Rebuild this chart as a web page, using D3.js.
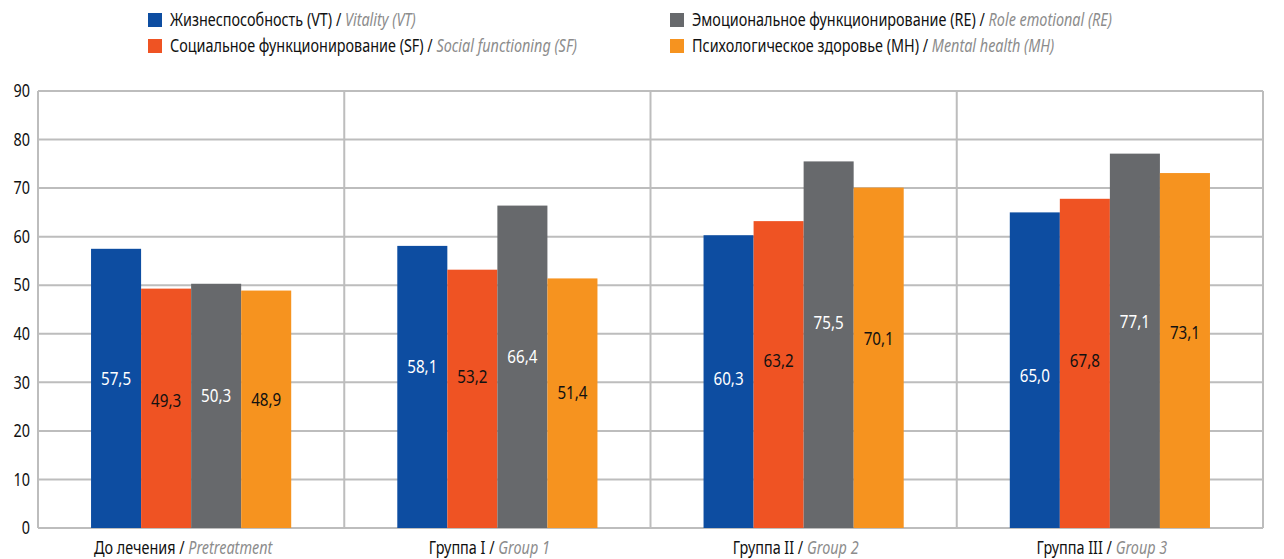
<!DOCTYPE html>
<html>
<head>
<meta charset="utf-8">
<script src="https://cdn.jsdelivr.net/npm/d3@7"></script>
<style>
  body { margin: 0; background: #fff; }
  svg text { font-family: "Noto Sans", "DejaVu Sans", sans-serif; }
</style>
</head>
<body>
<svg id="svg01" width="1284" height="559"></svg>
<script>
// data
const categories = ["До лечения", "Группа I", "Группа II", "Группа III"];
const categoriesEn = ["Pretreatment", "Group 1", "Group 2", "Group 3"];
const seriesKeys = ["VT", "SF", "RE", "MH"];
const seriesRu = ["Жизнеспособность (VT)", "Социальное функционирование (SF)", "Эмоциональное функционирование (RE)", "Психологическое здоровье (MH)"];
const seriesEn = ["Vitality (VT)", "Social functioning (SF)", "Role emotional (RE)", "Mental health (MH)"];
const vitality  = [57.5, 58.1, 60.3, 65.0];
const social    = [49.3, 53.2, 63.2, 67.8];
const emotional = [50.3, 66.4, 75.5, 77.1];
const mental    = [48.9, 51.4, 70.1, 73.1];
const yTicks = [0, 10, 20, 30, 40, 50, 60, 70, 80, 90];

const values = [vitality, social, emotional, mental];
const colors = ["#0d4da1", "#ef5323", "#67696c", "#f6931f"];
const labelColors = ["#fff", "#111", "#fff", "#111"];
// where each value label sits (in axis units)
const labelAt = [
  [30.8, 33.3, 30.8, 31.4],
  [26.2, 31.2, 34.5, 34.5],
  [27.4, 35.3, 42.3, 42.5],
  [26.4, 27.9, 39.0, 40.3]
];

const margin = {top: 91, right: 21, bottom: 31, left: 38};
const width = 1284, height = 559;
const sx = 0.8;   // condensed look: squeeze text horizontally

const x0 = d3.scaleBand()
    .domain(categories)
    .range([margin.left, width - margin.right])
    .padding(0);

const x1 = d3.scaleBand()
    .domain(seriesKeys)
    .range([0, x0.bandwidth()])
    .paddingInner(0)
    .paddingOuter(1.06);

const y = d3.scaleLinear()
    .domain([0, 90])
    .range([height - margin.bottom, margin.top]);

const fmt = v => d3.format(".1f")(v).replace(".", ",");

const svg = d3.select("#svg01");
const g_ = svg.append("g");

// horizontal grid
g_.append("g")
  .selectAll("line")
  .data(yTicks)
  .join("line")
    .attr("x1", margin.left)
    .attr("x2", width - margin.right)
    .attr("y1", d => y(d))
    .attr("y2", d => y(d))
    .attr("stroke", "#bdbdbd")
    .attr("stroke-width", 2);

// vertical separators (band edges)
const edges = categories.map(c => x0(c)).concat([width - margin.right]);
g_.append("g")
  .selectAll("line")
  .data(edges)
  .join("line")
    .attr("x1", d => d)
    .attr("x2", d => d)
    .attr("y1", y(90))
    .attr("y2", y(0))
    .attr("stroke", "#bdbdbd")
    .attr("stroke-width", 2);

// y axis labels
const yAxis = g => g
    .attr("transform", `translate(${margin.left},0)`)
    .call(d3.axisLeft(y).tickValues(yTicks).tickSize(0).tickPadding(10))
    .call(g => g.select(".domain").remove())
    .call(g => g.selectAll("text")
        .attr("font-family", null)
        .attr("font-size", 18)
        .attr("fill", "#111")
        .attr("transform", `scale(${sx},1)`));
g_.append("g").call(yAxis);

// bars
const groups = g_.append("g")
  .selectAll("g")
  .data(categories)
  .join("g")
    .attr("transform", c => `translate(${x0(c)},0)`);

groups.selectAll("rect")
  .data((c, ci) => seriesKeys.map((k, si) => ({k, si, v: values[si][ci]})))
  .join("rect")
    .attr("x", d => x1(d.k))
    .attr("width", x1.bandwidth())
    .attr("y", d => y(d.v))
    .attr("height", d => y(0) - y(d.v))
    .attr("fill", d => colors[d.si]);

groups.selectAll("text.val")
  .data((c, ci) => seriesKeys.map((k, si) => ({k, si, ci, v: values[si][ci]})))
  .join("text")
    .attr("class", "val")
    .attr("transform", d => `translate(${x1(d.k) + x1.bandwidth() / 2},${y(labelAt[d.si][d.ci])}) scale(${sx},1)`)
    .attr("dy", "0.35em")
    .attr("text-anchor", "middle")
    .attr("font-size", 19)
    .attr("fill", d => labelColors[d.si])
    .text(d => fmt(d.v));

// category labels
const cat = g_.append("g")
  .selectAll("text")
  .data(categories)
  .join("text")
    .attr("transform", c => `translate(${x0(c) + x0.bandwidth() / 2 - 8},548) scale(${sx},1)`)
    .attr("dy", "0.35em")
    .attr("text-anchor", "middle")
    .attr("font-size", 18)
    .attr("fill", "#111");
cat.append("tspan").text(c => c + " / ");
cat.append("tspan")
    .attr("font-style", "italic")
    .attr("fill", "#8c8c8c")
    .text((c, i) => categoriesEn[i]);

// legend
const legendPos = [[148, 20], [148, 46], [670, 20], [670, 46]];
const leg = svg.append("g")
  .selectAll("g")
  .data(seriesKeys)
  .join("g")
    .attr("transform", (d, i) => `translate(${legendPos[i][0]},${legendPos[i][1]})`);
leg.append("rect")
    .attr("x", 0)
    .attr("y", -7)
    .attr("width", 14)
    .attr("height", 14)
    .attr("fill", (d, i) => colors[i]);
const lt = leg.append("text")
    .attr("transform", `translate(22,0) scale(${sx},1)`)
    .attr("dy", "0.35em")
    .attr("font-size", 18)
    .attr("fill", "#111");
lt.append("tspan").text((d, i) => seriesRu[i] + " / ");
lt.append("tspan")
    .attr("font-style", "italic")
    .attr("fill", "#8c8c8c")
    .text((d, i) => seriesEn[i]);
</script>
</body>
</html>
